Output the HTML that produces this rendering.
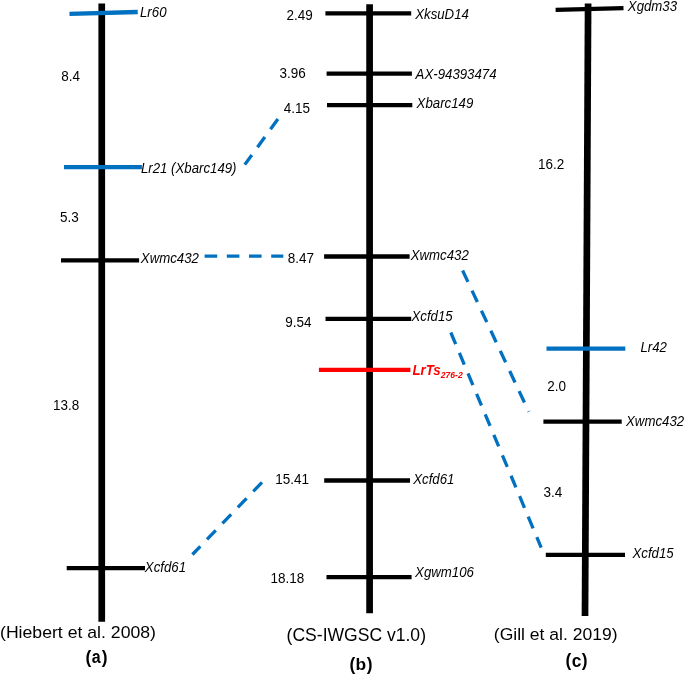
<!DOCTYPE html>
<html><head><meta charset="utf-8">
<style>
html,body{margin:0;padding:0;background:#fff;}
svg{display:block;}
text{font-family:"Liberation Sans",Arial,sans-serif;}
</style></head>
<body>
<svg width="685" height="675" viewBox="0 0 685 675">
<rect width="685" height="675" fill="#fff"/>
<line x1="101.75" y1="3.4" x2="101.75" y2="621.8" stroke="#000" stroke-width="6.7"/>
<line x1="61" y1="260.3" x2="139.1" y2="260.3" stroke="#000" stroke-width="4.3"/>
<line x1="66.7" y1="568.2" x2="145.0" y2="568.2" stroke="#000" stroke-width="4.3"/>
<line x1="369.6" y1="4.2" x2="369.6" y2="613.3" stroke="#000" stroke-width="6.7"/>
<line x1="325.4" y1="13.4" x2="411.2" y2="13.4" stroke="#000" stroke-width="4.3"/>
<line x1="326.6" y1="73.6" x2="411.9" y2="73.6" stroke="#000" stroke-width="4.3"/>
<line x1="327.0" y1="105.1" x2="412.3" y2="105.1" stroke="#000" stroke-width="4.3"/>
<line x1="324.1" y1="256.5" x2="409.6" y2="256.5" stroke="#000" stroke-width="4.3"/>
<line x1="325.5" y1="318.9" x2="411.2" y2="318.9" stroke="#000" stroke-width="4.3"/>
<line x1="324.2" y1="480.5" x2="410" y2="480.5" stroke="#000" stroke-width="4.3"/>
<line x1="326.5" y1="577.2" x2="411.6" y2="577.2" stroke="#000" stroke-width="4.3"/>
<line x1="588.1" y1="3.4" x2="585" y2="616.0" stroke="#000" stroke-width="6.7"/>
<line x1="555.6" y1="9.8" x2="623.5" y2="8.1" stroke="#000" stroke-width="4.3"/>
<line x1="543.4" y1="421.7" x2="621.7" y2="421.7" stroke="#000" stroke-width="4.3"/>
<line x1="545.8" y1="554.8" x2="625" y2="554.8" stroke="#000" stroke-width="4.3"/>
<line x1="69.5" y1="13.8" x2="137.7" y2="12" stroke="#0070C0" stroke-width="4.3"/>
<line x1="64" y1="167.2" x2="141.9" y2="167.2" stroke="#0070C0" stroke-width="4.3"/>
<line x1="318.9" y1="369.8" x2="410.4" y2="369.8" stroke="#FF0000" stroke-width="4.3"/>
<line x1="546.5" y1="348.6" x2="625.3" y2="348.6" stroke="#0070C0" stroke-width="4.3"/>
<g stroke="#0070C0" stroke-width="3.3" stroke-dasharray="12.6 9.6" fill="none">
<line x1="277.9" y1="119.0" x2="244.8" y2="164.6"/>
<line x1="204.6" y1="256.1" x2="283.3" y2="256.1"/>
<line x1="262.0" y1="482.4" x2="192.4" y2="554.5"/>
<line x1="462.6" y1="270.5" x2="528.8" y2="411.8"/>
<line x1="450.8" y1="332.5" x2="541.2" y2="547.6"/>
</g>
<text transform="translate(61.3 81.1) scale(1 1.025)" style="font-size:13.5px;fill:#000">8.4</text>
<text transform="translate(59.9 221.8) scale(1 1.025)" style="font-size:13.5px;fill:#000">5.3</text>
<text transform="translate(53.0 410.1) scale(1 1.025)" style="font-size:13.5px;fill:#000">13.8</text>
<text transform="translate(286.4 20.1) scale(1 1.025)" style="font-size:13.5px;fill:#000">2.49</text>
<text transform="translate(279.4 78.0) scale(1 1.025)" style="font-size:13.5px;fill:#000">3.96</text>
<text transform="translate(283.7 112.6) scale(1 1.025)" style="font-size:13.5px;fill:#000">4.15</text>
<text transform="translate(287.7 263.0) scale(1 1.025)" style="font-size:13.5px;fill:#000">8.47</text>
<text transform="translate(285.3 326.5) scale(1 1.025)" style="font-size:13.5px;fill:#000">9.54</text>
<text transform="translate(275.3 483.9) scale(1 1.025)" style="font-size:13.5px;fill:#000">15.41</text>
<text transform="translate(270.4 582.7) scale(1 1.025)" style="font-size:13.5px;fill:#000">18.18</text>
<text transform="translate(538.0 168.9) scale(1 1.025)" style="font-size:13.5px;fill:#000">16.2</text>
<text transform="translate(547.2 390.5) scale(1 1.025)" style="font-size:13.5px;fill:#000">2.0</text>
<text transform="translate(543.6 497.0) scale(1 1.025)" style="font-size:13.5px;fill:#000">3.4</text>
<text transform="translate(140.0 16.7) scale(1 1.04)" style="font-size:13.25px;font-style:italic;fill:#000">Lr60</text>
<text transform="translate(140.9 172.8) scale(1 1.04)" style="font-size:13.25px;font-style:italic;fill:#000">Lr21 (Xbarc149)</text>
<text transform="translate(140.8 263.2) scale(1 1.04)" style="font-size:13.25px;font-style:italic;fill:#000">Xwmc432</text>
<text transform="translate(144.8 571.5) scale(1 1.04)" style="font-size:13.25px;font-style:italic;fill:#000">Xcfd61</text>
<text transform="translate(415.2 18.7) scale(1 1.04)" style="font-size:13.25px;font-style:italic;fill:#000">XksuD14</text>
<text transform="translate(415.6 78.7) scale(1 1.04)" style="font-size:13.25px;font-style:italic;fill:#000">AX-94393474</text>
<text transform="translate(416.6 107.7) scale(1 1.04)" style="font-size:13.25px;font-style:italic;fill:#000">Xbarc149</text>
<text transform="translate(410.7 260.4) scale(1 1.04)" style="font-size:13.25px;font-style:italic;fill:#000">Xwmc432</text>
<text transform="translate(411.5 320.6) scale(1 1.04)" style="font-size:13.25px;font-style:italic;fill:#000">Xcfd15</text>
<text transform="translate(413.2 483.8) scale(1 1.04)" style="font-size:13.25px;font-style:italic;fill:#000">Xcfd61</text>
<text transform="translate(415.1 577.3) scale(1 1.04)" style="font-size:13.25px;font-style:italic;fill:#000">Xgwm106</text>
<text transform="translate(627.8 10.6) scale(1 1.04)" style="font-size:13.25px;font-style:italic;fill:#000">Xgdm33</text>
<text transform="translate(640.4 352.0) scale(1 1.04)" style="font-size:13.25px;font-style:italic;fill:#000">Lr42</text>
<text transform="translate(626.0 426.4) scale(1 1.04)" style="font-size:13.25px;font-style:italic;fill:#000">Xwmc432</text>
<text transform="translate(632.5 557.6) scale(1 1.04)" style="font-size:13.25px;font-style:italic;fill:#000">Xcfd15</text>
<text transform="translate(412.5 374.5) scale(1 1.04)" style="font-size:13.25px;font-style:italic;font-weight:bold;fill:#FF0000">LrTs<tspan style="font-size:8.6px" dy="2.9">276-2</tspan></text>
<text transform="translate(0.0 637.9) scale(1 0.96)" style="font-size:17.65px;fill:#000">(Hiebert et al. 2008)</text>
<text transform="translate(286.6 640.5) scale(1 1.02)" style="font-size:17.55px;fill:#000">(CS-IWGSC v1.0)</text>
<text transform="translate(493.8 640.3) scale(1 0.985)" style="font-size:17.55px;fill:#000">(Gill et al. 2019)</text>
<text transform="translate(85.6 662.7) scale(1 1.013)" style="font-size:17.4px;font-weight:bold;fill:#000">(</text><text transform="translate(91.75 663.4) scale(0.92 1.05)" style="font-size:17.4px;font-weight:bold;fill:#000">a</text><text transform="translate(101.7 662.7) scale(1 1.013)" style="font-size:17.4px;font-weight:bold;fill:#000">)</text>
<text transform="translate(349.6 669.9) scale(1 1.013)" style="font-size:17.4px;font-weight:bold;fill:#000">(</text><text transform="translate(355.6 669.9) scale(1.0 1.0)" style="font-size:17.4px;font-weight:bold;fill:#000">b</text><text transform="translate(366.8 669.9) scale(1 1.013)" style="font-size:17.4px;font-weight:bold;fill:#000">)</text>
<text transform="translate(565.6 665.95) scale(1 1.013)" style="font-size:17.4px;font-weight:bold;fill:#000">(</text><text transform="translate(571.7 666.8) scale(1.0 1.1)" style="font-size:17.4px;font-weight:bold;fill:#000">c</text><text transform="translate(581.8 665.95) scale(1 1.013)" style="font-size:17.4px;font-weight:bold;fill:#000">)</text>
</svg>
</body></html>
